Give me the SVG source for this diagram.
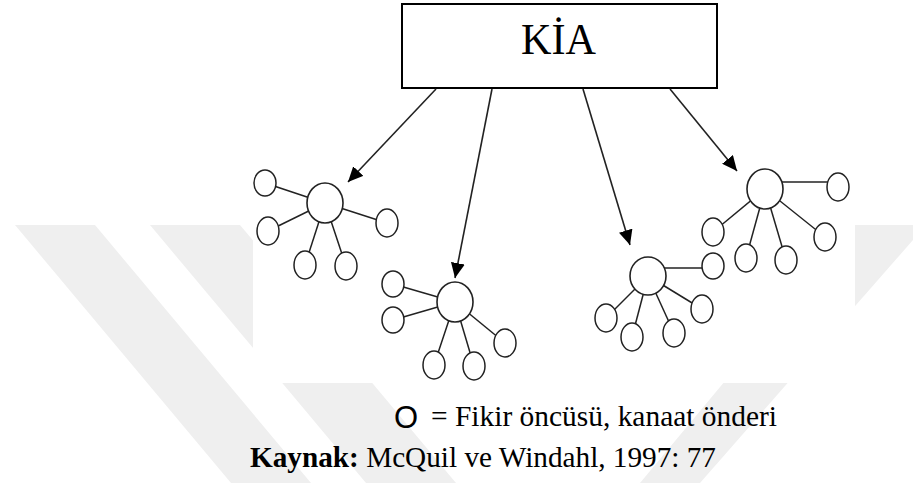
<svg xmlns="http://www.w3.org/2000/svg" width="913" height="483" viewBox="0 0 913 483">
<style>
.box{fill:#fff;stroke:#000;stroke-width:2}
.conn{stroke:#222;stroke-width:1.6;fill:none}
.link{stroke:#222;stroke-width:1.5}
.c{fill:#fff;stroke:#222;stroke-width:1.5}
.big{fill:#fff;stroke:#222;stroke-width:1.6}
.serif{font-family:"Liberation Serif","Times New Roman",serif;fill:#000}
.wm{fill:#efefef}
</style>
<defs>
<marker id="ah" markerUnits="userSpaceOnUse" markerWidth="16" markerHeight="14" refX="15" refY="7" orient="auto">
<path d="M0,0 L15,7 L0,14 Z" fill="#000"/>
</marker>
</defs>
<rect width="913" height="483" fill="#fff"/>
<g id="watermark">
<polygon class="wm" points="15,225 95,225 311,483 231,483"/>
<polygon class="wm" points="150,225 240,225 456,483 366,483"/>
<polygon class="wm" points="855,225 913,225 913,240 700,483 640,483"/>
<rect x="253" y="0" width="602" height="383" fill="#fff"/>
</g>
<g id="kia">
<rect class="box" x="402" y="4" width="315" height="84"/>
<text class="serif" x="521" y="54" font-size="45" textLength="75" lengthAdjust="spacingAndGlyphs">KİA</text>
</g>
<g id="connectors">
<line class="conn" x1="436" y1="89" x2="348" y2="182" marker-end="url(#ah)"/>
<line class="conn" x1="492" y1="89" x2="455" y2="278" marker-end="url(#ah)"/>
<line class="conn" x1="583" y1="89" x2="630" y2="245" marker-end="url(#ah)"/>
<line class="conn" x1="670" y1="89" x2="737" y2="171" marker-end="url(#ah)"/>
</g>
<g id="cluster1">
<line class="link" x1="325" y1="203" x2="265" y2="183"/>
<line class="link" x1="325" y1="203" x2="268" y2="231"/>
<line class="link" x1="325" y1="203" x2="305" y2="265"/>
<line class="link" x1="325" y1="203" x2="346" y2="266"/>
<line class="link" x1="325" y1="203" x2="387" y2="223"/>
<ellipse class="big" cx="325" cy="203" rx="18" ry="20"/>
<ellipse class="c" cx="265" cy="183" rx="11" ry="13"/>
<ellipse class="c" cx="268" cy="231" rx="11" ry="14"/>
<ellipse class="c" cx="305" cy="265" rx="11" ry="14"/>
<ellipse class="c" cx="346" cy="266" rx="11" ry="14"/>
<ellipse class="c" cx="387" cy="223" rx="11" ry="14"/>
</g>
<g id="cluster2">
<line class="link" x1="455" y1="302" x2="393" y2="284"/>
<line class="link" x1="455" y1="302" x2="393" y2="320"/>
<line class="link" x1="455" y1="302" x2="434" y2="365"/>
<line class="link" x1="455" y1="302" x2="474" y2="366"/>
<line class="link" x1="455" y1="302" x2="505" y2="343"/>
<ellipse class="big" cx="455" cy="302" rx="18" ry="20"/>
<ellipse class="c" cx="393" cy="284" rx="11" ry="13"/>
<ellipse class="c" cx="393" cy="320" rx="11" ry="13"/>
<ellipse class="c" cx="434" cy="365" rx="11" ry="14"/>
<ellipse class="c" cx="474" cy="366" rx="11" ry="14"/>
<ellipse class="c" cx="505" cy="343" rx="11" ry="14"/>
</g>
<g id="cluster3">
<line class="link" x1="648" y1="268" x2="713" y2="268"/>
<line class="link" x1="648" y1="276" x2="702" y2="309"/>
<line class="link" x1="648" y1="276" x2="606" y2="318"/>
<line class="link" x1="648" y1="276" x2="632" y2="337"/>
<line class="link" x1="648" y1="276" x2="674" y2="333"/>
<ellipse class="big" cx="648" cy="276" rx="18" ry="19"/>
<ellipse class="c" cx="713" cy="266" rx="11" ry="13"/>
<ellipse class="c" cx="702" cy="309" rx="11" ry="14"/>
<ellipse class="c" cx="606" cy="318" rx="11" ry="14"/>
<ellipse class="c" cx="632" cy="337" rx="11" ry="14"/>
<ellipse class="c" cx="674" cy="333" rx="11" ry="14"/>
</g>
<g id="cluster4">
<line class="link" x1="765" y1="182" x2="838" y2="182"/>
<line class="link" x1="765" y1="189" x2="713" y2="232"/>
<line class="link" x1="765" y1="189" x2="746" y2="258"/>
<line class="link" x1="765" y1="189" x2="786" y2="260"/>
<line class="link" x1="765" y1="189" x2="825" y2="237"/>
<ellipse class="big" cx="765" cy="189" rx="18" ry="20"/>
<ellipse class="c" cx="838" cy="187" rx="11" ry="14"/>
<ellipse class="c" cx="713" cy="232" rx="11" ry="14"/>
<ellipse class="c" cx="746" cy="258" rx="11" ry="14"/>
<ellipse class="c" cx="786" cy="260" rx="11" ry="14"/>
<ellipse class="c" cx="825" cy="237" rx="11" ry="14"/>
</g>
<g id="legend">
<text x="394" y="428" font-family="Liberation Sans, Arial, sans-serif" font-size="31" fill="#000">O</text>
<text class="serif" x="431" y="426" font-size="29.5" textLength="346" lengthAdjust="spacingAndGlyphs">= Fikir öncüsü, kanaat önderi</text>
</g>
<g id="source">
<text class="serif" x="250" y="467" font-size="29.5" textLength="466" lengthAdjust="spacingAndGlyphs"><tspan font-weight="bold">Kaynak:</tspan> McQuil ve Windahl, 1997: 77</text>
</g>
</svg>
